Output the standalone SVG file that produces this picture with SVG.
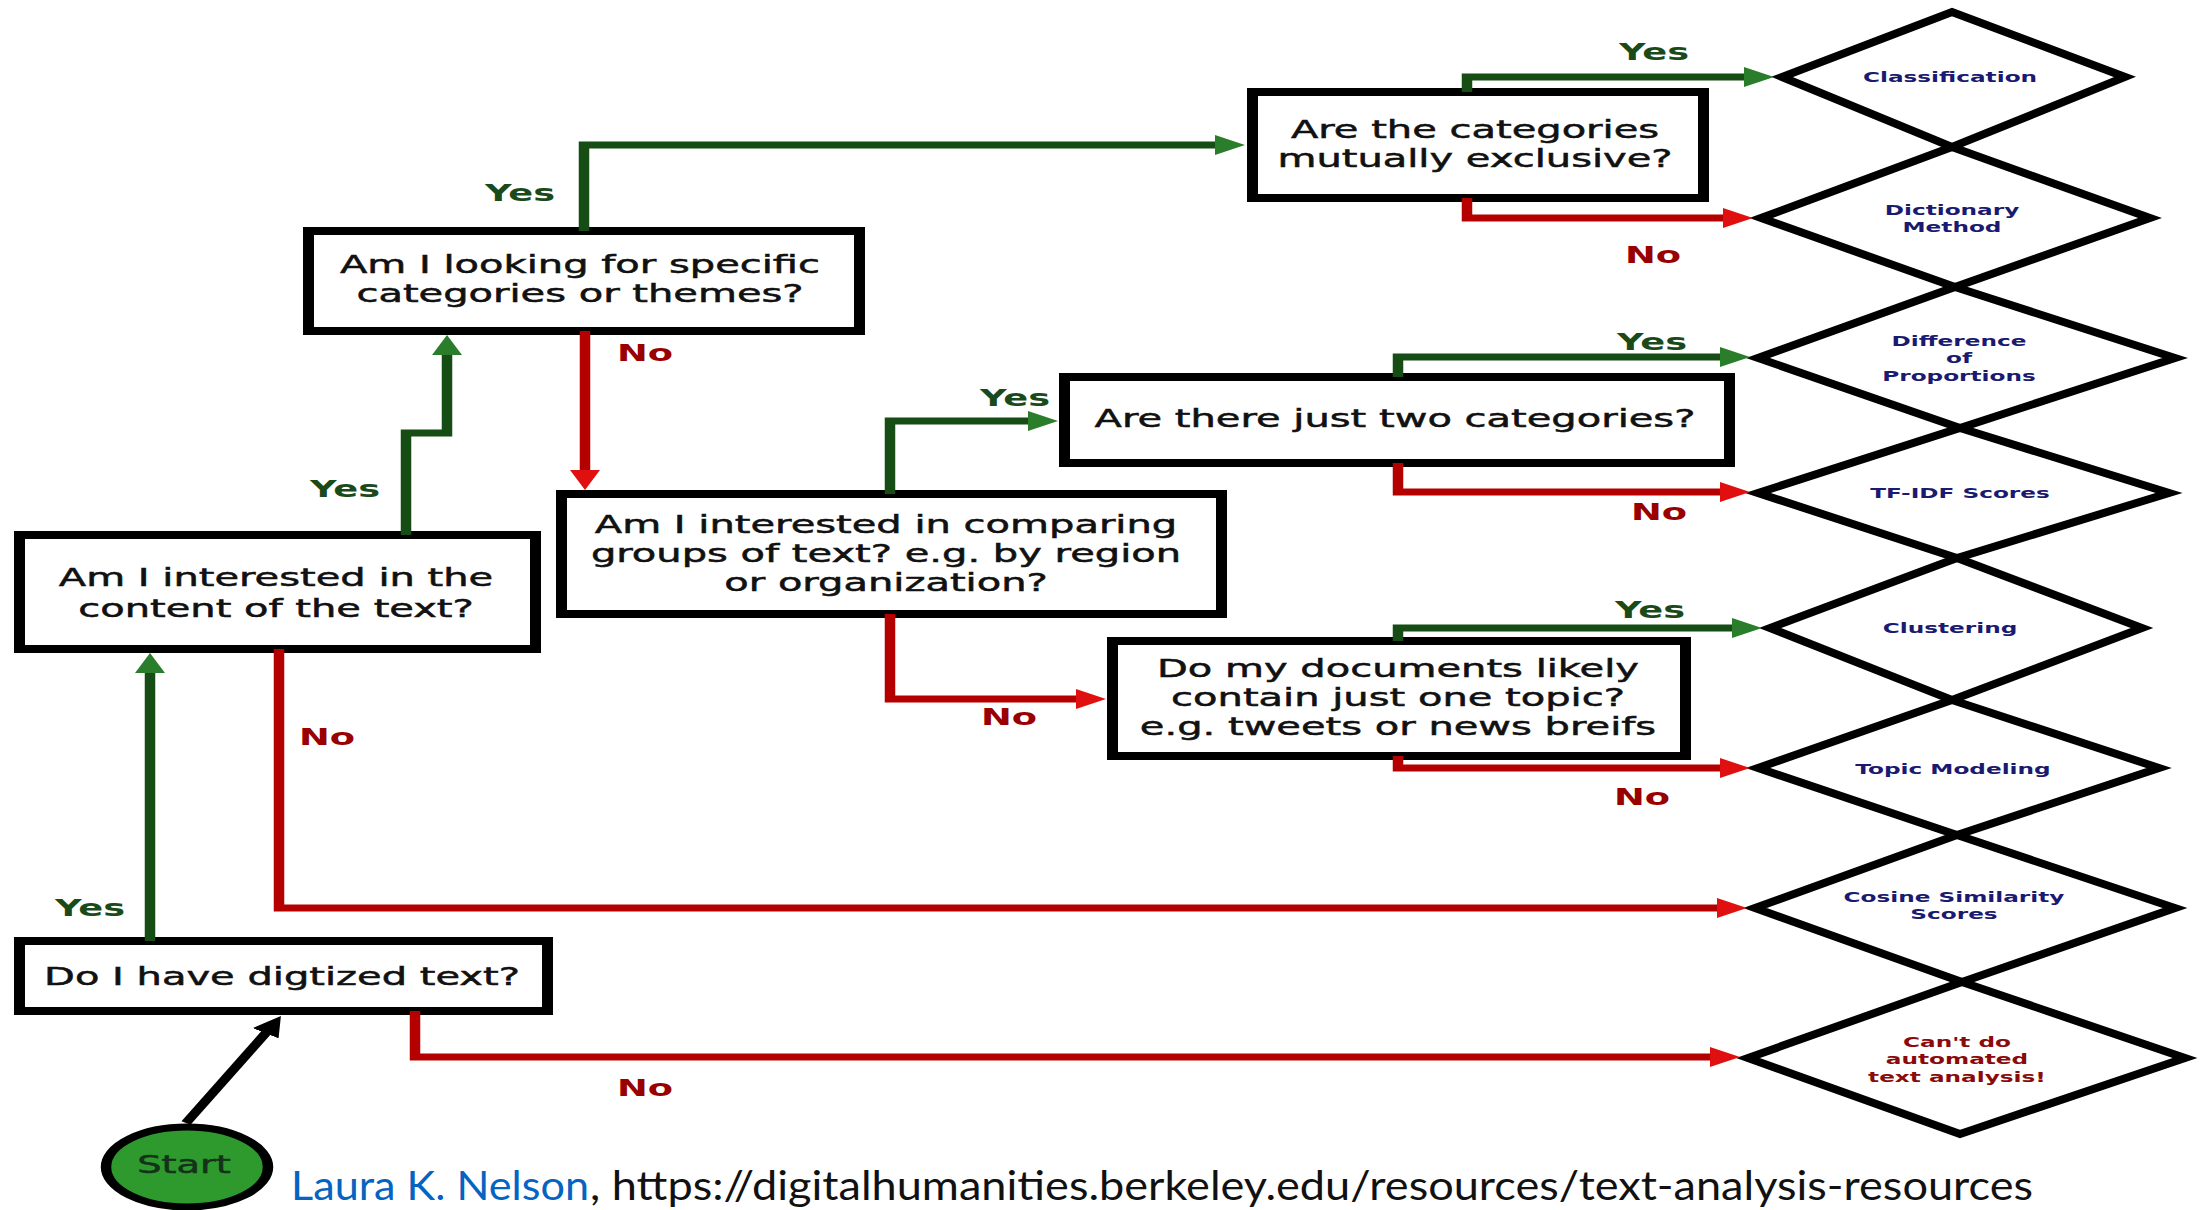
<svg xmlns="http://www.w3.org/2000/svg" width="2204" height="1210" viewBox="0 0 2204 1210">
<style>
.bo{fill:#000}
.bi{fill:#fff}
.dm{fill:none;stroke:#000;stroke-width:8;stroke-linejoin:miter}
.q{font-family:"DejaVu Sans","Liberation Sans",sans-serif;font-size:25px;fill:#111;stroke:#111;stroke-width:0.5;text-anchor:middle}
.y{font-family:"DejaVu Sans","Liberation Sans",sans-serif;font-size:23px;font-weight:bold;fill:#1a4a1a;text-anchor:middle}
.n{font-family:"DejaVu Sans","Liberation Sans",sans-serif;font-size:23px;font-weight:bold;fill:#990000;text-anchor:middle}
.d{font-family:"DejaVu Sans","Liberation Sans",sans-serif;font-size:14.5px;font-weight:bold;fill:#1a1a70;text-anchor:middle}
.dr{fill:#8b0a0a}
.g{fill:none;stroke:#154d15;stroke-width:7;stroke-linejoin:miter;marker-end:url(#ag)}
.r{fill:none;stroke:#b50000;stroke-width:7;stroke-linejoin:miter;marker-end:url(#ar)}
.k{fill:none;stroke:#000;stroke-width:7;marker-end:url(#ak)}
.cite{font-family:"Lato","Liberation Sans",sans-serif;font-size:41px}
</style>
<defs>
<marker id="ag" viewBox="0 0 20 20" markerWidth="20" markerHeight="20" refX="12" refY="10" orient="auto" markerUnits="userSpaceOnUse"><path d="M0,0L20,10L0,20z" fill="#2a7d2a"/></marker>
<marker id="ar" viewBox="0 0 20 20" markerWidth="20" markerHeight="20" refX="12" refY="10" orient="auto" markerUnits="userSpaceOnUse"><path d="M0,0L20,10L0,20z" fill="#e01010"/></marker>
<marker id="ak" viewBox="0 0 20 20" markerWidth="20" markerHeight="20" refX="12" refY="10" orient="auto" markerUnits="userSpaceOnUse"><path d="M0,0L20,10L0,20z" fill="#000"/></marker>
</defs>
<rect x="0" y="0" width="2204" height="1210" fill="#fff"/>

<g id="q-digitized">
<rect class="bo" x="14" y="937" width="539" height="78"/>
<rect class="bi" x="25" y="945" width="517" height="62"/>
<text class="q" transform="translate(282,985) scale(1.6,1)">Do I have digtized text?</text>
</g>
<g id="q-content">
<rect class="bo" x="14" y="531" width="527" height="122"/>
<rect class="bi" x="25" y="539" width="505" height="106"/>
<text class="q" transform="translate(276,586) scale(1.6,1)"><tspan x="0">Am I interested in the</tspan><tspan x="0" dy="31">content of the text?</tspan></text>
</g>
<g id="q-specific">
<rect class="bo" x="303" y="227" width="562" height="108"/>
<rect class="bi" x="314" y="235" width="540" height="92"/>
<text class="q" transform="translate(580,273) scale(1.6,1)"><tspan x="0">Am I looking for specific</tspan><tspan x="0" dy="29">categories or themes?</tspan></text>
</g>
<g id="q-groups">
<rect class="bo" x="556" y="490" width="671" height="128"/>
<rect class="bi" x="567" y="498" width="649" height="112"/>
<text class="q" transform="translate(886,533) scale(1.6,1)"><tspan x="0">Am I interested in comparing</tspan><tspan x="0" dy="29">groups of text? e.g. by region</tspan><tspan x="0" dy="29">or organization?</tspan></text>
</g>
<g id="q-exclusive">
<rect class="bo" x="1247" y="88" width="462" height="114"/>
<rect class="bi" x="1258" y="96" width="440" height="98"/>
<text class="q" transform="translate(1475,138) scale(1.6,1)"><tspan x="0">Are the categories</tspan><tspan x="0" dy="29">mutually exclusive?</tspan></text>
</g>
<g id="q-two">
<rect class="bo" x="1059" y="373" width="676" height="94"/>
<rect class="bi" x="1070" y="381" width="654" height="78"/>
<text class="q" transform="translate(1395,427) scale(1.6,1)">Are there just two categories?</text>
</g>
<g id="q-topic">
<rect class="bo" x="1107" y="637" width="584" height="123"/>
<rect class="bi" x="1118" y="645" width="562" height="107"/>
<text class="q" transform="translate(1398,677) scale(1.6,1)"><tspan x="0">Do my documents likely</tspan><tspan x="0" dy="29">contain just one topic?</tspan><tspan x="0" dy="29">e.g. tweets or news breifs</tspan></text>
</g>

<g id="start">
<ellipse transform="scale(1.5,1)" cx="124.67" cy="1167" rx="54" ry="40" fill="#2e9a2e" stroke="#000" stroke-width="7"/>
<text class="q" style="fill:#14321a;stroke:#14321a;font-size:24px" transform="translate(184,1173) scale(1.6,1)">Start</text>
</g>

<g id="r-classification">
<polygon class="dm" points="1952,12 2125,77 1952,147 1782,77"/>
<text class="d" transform="translate(1950,82) scale(1.6,1)">Classification</text>
</g>
<g id="r-dictionary">
<polygon class="dm" points="1952,147 2150,218 1955,287 1761,218"/>
<text class="d" transform="translate(1952,215) scale(1.6,1)"><tspan x="0">Dictionary</tspan><tspan x="0" dy="17.5">Method</tspan></text>
</g>
<g id="r-difference">
<polygon class="dm" points="1955,287 2175,358 1960,428 1758,358"/>
<text class="d" transform="translate(1959,346) scale(1.6,1)"><tspan x="0">Difference</tspan><tspan x="0" dy="17.5">of</tspan><tspan x="0" dy="17.5">Proportions</tspan></text>
</g>
<g id="r-tfidf">
<polygon class="dm" points="1960,428 2169,493 1957,558 1758,493"/>
<text class="d" transform="translate(1960,498) scale(1.6,1)">TF-IDF Scores</text>
</g>
<g id="r-clustering">
<polygon class="dm" points="1957,558 2142,628 1952,700 1770,628"/>
<text class="d" transform="translate(1950,633) scale(1.6,1)">Clustering</text>
</g>
<g id="r-topic">
<polygon class="dm" points="1952,700 2159,768 1957,835 1758,768"/>
<text class="d" transform="translate(1953,774) scale(1.6,1)">Topic Modeling</text>
</g>
<g id="r-cosine">
<polygon class="dm" points="1957,835 2175,908 1962,982 1755,908"/>
<text class="d" transform="translate(1954,902) scale(1.6,1)"><tspan x="0">Cosine Similarity</tspan><tspan x="0" dy="17.5">Scores</tspan></text>
</g>
<g id="r-cant">
<polygon class="dm" points="1962,982 2185,1058 1960,1134 1748,1058"/>
<text class="d dr" transform="translate(1957,1047) scale(1.6,1)"><tspan x="0">Can't do</tspan><tspan x="0" dy="17.5">automated</tspan><tspan x="0" dy="17.5">text analysis!</tspan></text>
</g>

<g id="connectors">
<g transform="scale(1.5,1)">
<path class="k" d="M124,1123L183.2,1022.9"/>
<path class="g" d="M100,941V661"/>
<path class="r" d="M276.67,1011V1057H1152"/>
<path class="r" d="M186,649V908H1156.67"/>
<path class="g" d="M270.67,535V433H298V343"/>
<path class="g" d="M389.33,231V145H822"/>
<path class="r" d="M390,331V482"/>
<path class="g" d="M593.33,494V421H697.33"/>
<path class="r" d="M593.33,614V699H729.33"/>
<path class="g" d="M978,92V77H1174.67"/>
<path class="r" d="M978,198V218H1160.67"/>
<path class="g" d="M932,377V357H1158.67"/>
<path class="r" d="M932,463V492H1158.67"/>
<path class="g" d="M932,641V628H1166.67"/>
<path class="r" d="M932,756V768H1158.67"/>
</g>
<text class="y" transform="translate(90,916) scale(1.6,1)">Yes</text>
<text class="n" transform="translate(645,1096) scale(1.6,1)">No</text>
<text class="n" transform="translate(327,745) scale(1.6,1)">No</text>
<text class="y" transform="translate(345,497) scale(1.6,1)">Yes</text>
<text class="y" transform="translate(520,201) scale(1.6,1)">Yes</text>
<text class="n" transform="translate(645,361) scale(1.6,1)">No</text>
<text class="y" transform="translate(1015,406) scale(1.6,1)">Yes</text>
<text class="n" transform="translate(1009,725) scale(1.6,1)">No</text>
<text class="y" transform="translate(1654,60) scale(1.6,1)">Yes</text>
<text class="n" transform="translate(1653,263) scale(1.6,1)">No</text>
<text class="y" transform="translate(1652,350) scale(1.6,1)">Yes</text>
<text class="n" transform="translate(1659,520) scale(1.6,1)">No</text>
<text class="y" transform="translate(1650,618) scale(1.6,1)">Yes</text>
<text class="n" transform="translate(1642,805) scale(1.6,1)">No</text>
</g>

<g id="citation">
<text class="cite" x="291" y="1200" fill="#0563c1" textLength="298" lengthAdjust="spacingAndGlyphs">Laura K. Nelson</text>
<text class="cite" x="590" y="1200" fill="#111" textLength="1443" lengthAdjust="spacingAndGlyphs">, https://digitalhumanities.berkeley.edu/resources/text-analysis-resources</text>
</g>
</svg>
